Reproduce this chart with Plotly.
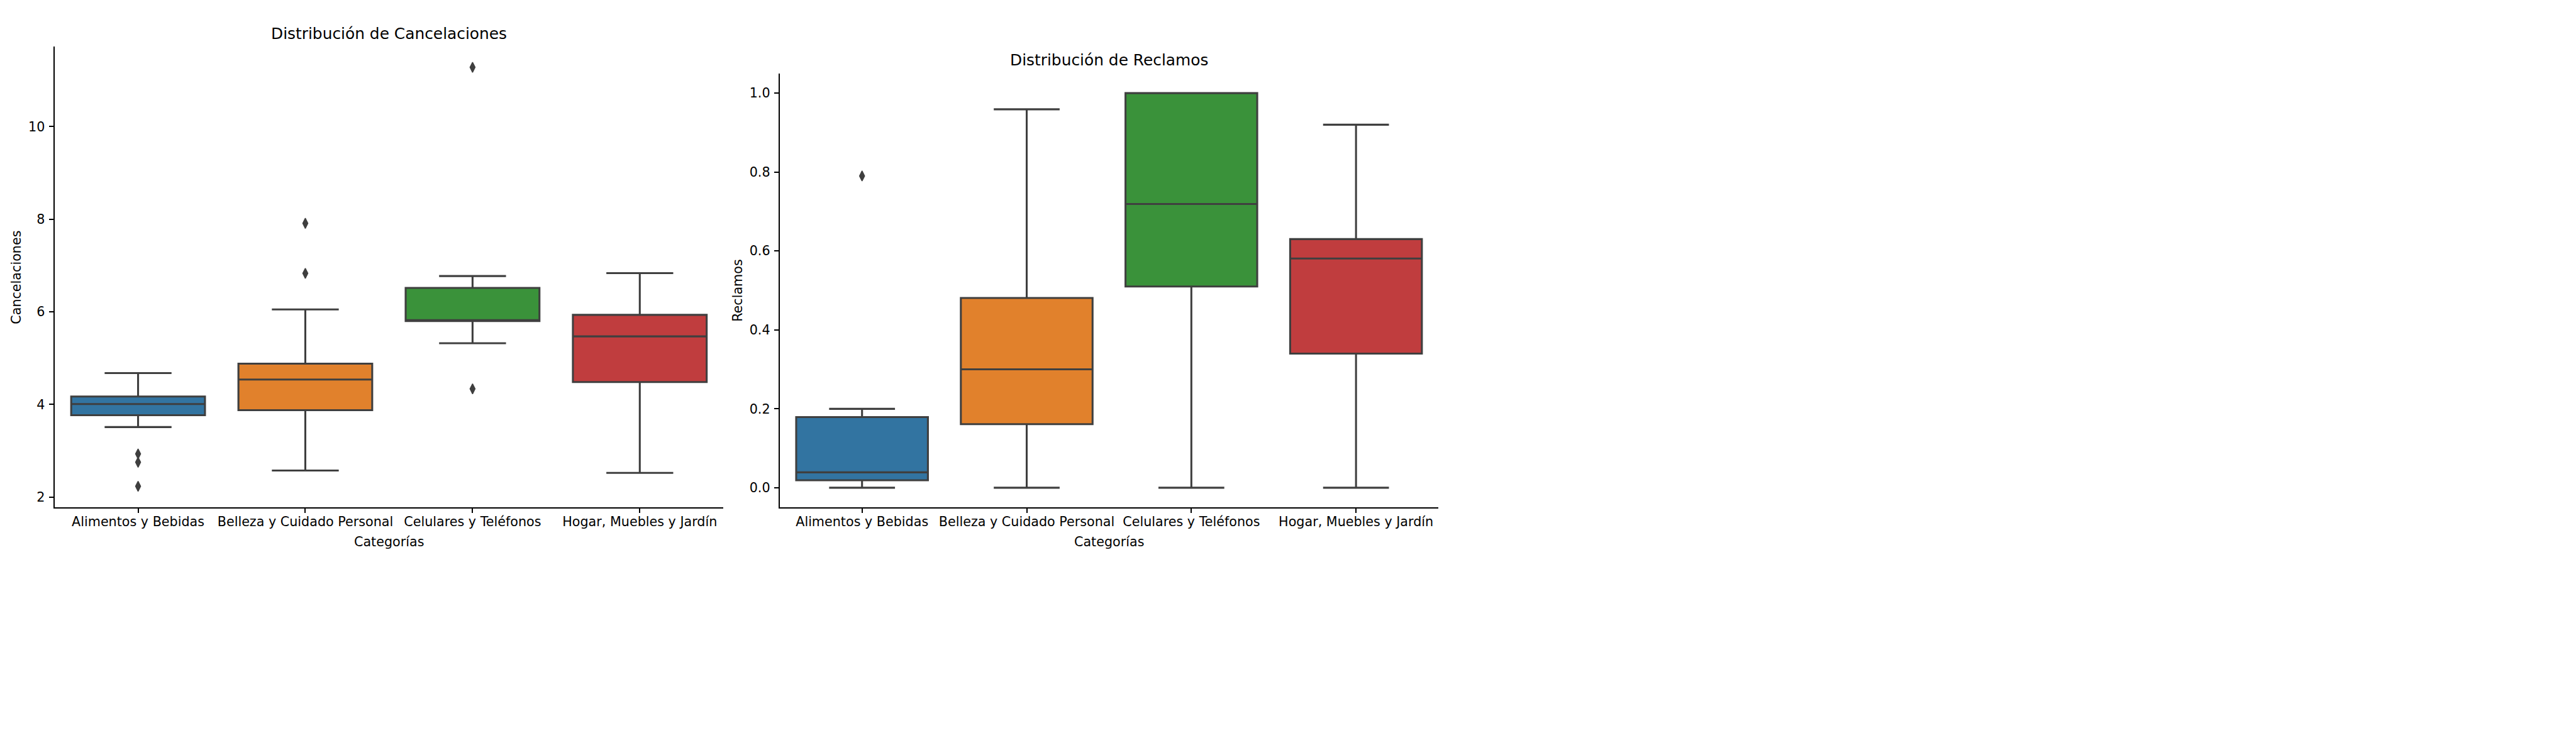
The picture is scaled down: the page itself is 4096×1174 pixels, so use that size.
import plotly.graph_objects as go

# ---------------- data ----------------
categories = ["Alimentos y Bebidas", "Belleza y Cuidado Personal",
              "Celulares y Teléfonos", "Hogar, Muebles y Jardín"]

canc_lower = [3.51, 2.57, 5.32, 2.52]
canc_q1 = [3.765, 3.875, 5.80, 4.483]
canc_median = [4.007, 4.537, 5.82, 5.468]
canc_q3 = [4.170, 4.878, 6.515, 5.933]
canc_upper = [4.675, 6.05, 6.771, 6.833]
canc_out_cat = ["Alimentos y Bebidas", "Alimentos y Bebidas", "Alimentos y Bebidas",
                "Belleza y Cuidado Personal", "Belleza y Cuidado Personal",
                "Celulares y Teléfonos", "Celulares y Teléfonos"]
canc_out_val = [2.93, 2.75, 2.23, 7.91, 6.83, 11.28, 4.335]

recl_lower = [0.0, 0.0, 0.0, 0.0]
recl_q1 = [0.019, 0.161, 0.510, 0.340]
recl_median = [0.039, 0.300, 0.719, 0.581]
recl_q3 = [0.179, 0.481, 1.0, 0.630]
recl_upper = [0.200, 0.959, 1.0, 0.920]
recl_out_cat = ["Alimentos y Bebidas"]
recl_out_val = [0.79]

canc_ticks = [2, 4, 6, 8, 10]
recl_ticks = [0.0, 0.2, 0.4, 0.6, 0.8, 1.0]
recl_ticktext = ["0.0", "0.2", "0.4", "0.6", "0.8", "1.0"]

colors = ["#3274a1", "#e1812c", "#3a923a", "#c03d3e"]

# ---------------- geometry helpers ----------------
S = 0.995
W, H = 4096, 1174


def px(x):
    return x * S / W


def py(y):
    return 1 - y * S / H


EDGE = "#3f3f3f"
LW = 3.1 * S
FONT = "DejaVu Sans"
TICKF = 20.8 * S
TITLEF = 25.0 * S

L1, R1, T1 = 79, 1148, 66
L2, R2, T2 = 1238, 2290.5, 109.3
B = 803.3

fig = go.Figure()


def add_boxes(lower, q1, med, q3, upper, xa, ya):
    for i, cat in enumerate(categories):
        fig.add_trace(go.Box(
            x=[cat], q1=[q1[i]], median=[med[i]], q3=[q3[i]],
            lowerfence=[lower[i]], upperfence=[upper[i]],
            fillcolor=colors[i], line=dict(color=EDGE, width=LW),
            width=0.8, whiskerwidth=0.5, boxpoints=False,
            xaxis=xa, yaxis=ya, showlegend=False, hoverinfo="skip"))


add_boxes(canc_lower, canc_q1, canc_median, canc_q3, canc_upper, "x", "y")
add_boxes(recl_lower, recl_q1, recl_median, recl_q3, recl_upper, "x2", "y2")

marker = dict(symbol="diamond-tall", size=11.5, color=EDGE,
              line=dict(color=EDGE, width=1.5))
fig.add_trace(go.Scatter(x=canc_out_cat, y=canc_out_val, mode="markers",
                         marker=marker, xaxis="x", yaxis="y", showlegend=False))
fig.add_trace(go.Scatter(x=recl_out_cat, y=recl_out_val, mode="markers",
                         marker=marker, xaxis="x2", yaxis="y2", showlegend=False))

axis_common = dict(
    showline=True, linecolor="black", linewidth=1.67 * S, mirror=False,
    ticks="outside", ticklen=7.3 * S, tickwidth=1.67 * S, tickcolor="black",
    tickfont=dict(family=FONT, size=TICKF, color="black"),
    showgrid=False, zeroline=False,
)

fig.update_layout(
    width=W, height=H,
    margin=dict(l=0, r=0, t=0, b=0),
    paper_bgcolor="white", plot_bgcolor="white",
    boxmode="overlay",
    font=dict(family=FONT, color="black"),
    xaxis=dict(domain=[px(L1), px(R1)], anchor="y", type="category",
               categoryorder="array", categoryarray=categories,
               range=[-0.5, 3.5], tickangle=0, ticklabelstandoff=-4, **axis_common),
    yaxis=dict(domain=[py(B), py(T1)], anchor="x", range=[1.773, 11.733],
               tickvals=canc_ticks, ticklabelstandoff=2, **axis_common),
    xaxis2=dict(domain=[px(L2), px(R2)], anchor="y2", type="category",
                categoryorder="array", categoryarray=categories,
                range=[-0.5, 3.5], tickangle=0, ticklabelstandoff=-4, **axis_common),
    yaxis2=dict(domain=[py(B), py(T2)], anchor="x2", range=[-0.05, 1.05],
                tickvals=recl_ticks, ticktext=recl_ticktext, ticklabelstandoff=2,
                **axis_common),
)

annots = [
    dict(text="Distribución de Cancelaciones", x=px((L1 + R1) / 2), y=py(46),
         size=TITLEF),
    dict(text="Distribución de Reclamos", x=px((L2 + R2) / 2), y=py(88),
         size=TITLEF),
    dict(text="Categorías", x=px((L1 + R1) / 2), y=py(858), size=TICKF),
    dict(text="Categorías", x=px((L2 + R2) / 2), y=py(858), size=TICKF),
]
for a in annots:
    fig.add_annotation(text=a["text"], x=a["x"], y=a["y"], xref="paper", yref="paper",
                       xanchor="center", yanchor="middle", showarrow=False,
                       font=dict(family=FONT, size=a["size"], color="black"))

for text, xc, yc in [("Cancelaciones", 18, 435), ("Reclamos", 1171, 456)]:
    fig.add_annotation(text=text, x=px(xc), y=py(yc), xref="paper", yref="paper",
                       xanchor="center", yanchor="middle", showarrow=False,
                       textangle=-90,
                       font=dict(family=FONT, size=TICKF, color="black"))

fig.write_html("out.html")
